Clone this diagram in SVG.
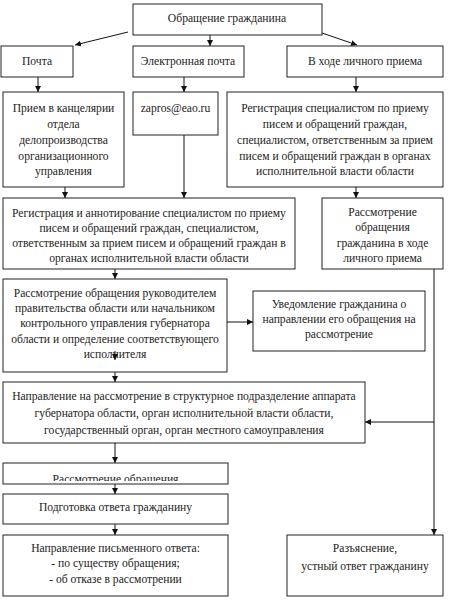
<svg xmlns="http://www.w3.org/2000/svg" width="450" height="600" viewBox="0 0 450 600">
<style>
.box{fill:#fff;stroke:#222;stroke-width:1}
.t{font-family:'Liberation Serif','Times New Roman',Times,serif;font-size:11.6px;fill:#222;text-anchor:middle}
.c{stroke:#111;stroke-width:1;fill:none;marker-end:url(#ah)}
</style>
<defs>
<marker id="ah" markerWidth="6" markerHeight="6" refX="6" refY="3" orient="auto" markerUnits="userSpaceOnUse">
<path d="M0,0 L6,3 L0,6 Z" fill="#111"/>
</marker>
<clipPath id="clip13"><rect x="3" y="463" width="225" height="18"/></clipPath>
</defs>
<rect width="450" height="600" fill="#fff"/>
<g id="connectors">
<line class="c" x1="128" y1="32" x2="75" y2="45"/>
<line class="c" x1="210" y1="35" x2="210" y2="46"/>
<line class="c" x1="322" y1="33" x2="357" y2="45"/>
<line class="c" x1="38" y1="77" x2="38" y2="92"/>
<line class="c" x1="184" y1="77" x2="184" y2="92"/>
<line class="c" x1="356" y1="77" x2="356" y2="92"/>
<line class="c" x1="65" y1="187" x2="65" y2="198"/>
<line class="c" x1="184" y1="135" x2="184" y2="198"/>
<line class="c" x1="356" y1="187" x2="356" y2="198"/>
<line class="c" x1="115" y1="269" x2="115" y2="279"/>
<line class="c" x1="227" y1="322" x2="253" y2="322"/>
<line class="c" x1="115" y1="372" x2="115" y2="382"/>
<line class="c" x1="434" y1="269" x2="434" y2="535"/>
<line class="c" x1="434" y1="422" x2="365" y2="422"/>
<line class="c" x1="115" y1="443" x2="115" y2="463"/>
<line class="c" x1="115" y1="484" x2="115" y2="494"/>
<line class="c" x1="115" y1="524" x2="115" y2="535"/>
</g>
<g id="n1"><rect class="box" x="133" y="4" width="189" height="31"/><text class="t" x="227" y="22">Обращение гражданина</text></g>
<g id="n2"><rect class="box" x="1" y="46" width="72" height="31"/><text class="t" x="37" y="65">Почта</text></g>
<g id="n3"><rect class="box" x="133" y="46" width="111" height="31"/><text class="t" x="188" y="65">Электронная почта</text></g>
<g id="n4"><rect class="box" x="287" y="46" width="156" height="31"/><text class="t" x="365" y="65">В ходе личного приема</text></g>
<g id="n5"><rect class="box" x="3" y="92" width="121" height="95"/>
<text class="t" x="63.5" y="112">Прием в канцелярии</text>
<text class="t" x="63.5" y="128">отдела</text>
<text class="t" x="63.5" y="144">делопроизводства</text>
<text class="t" x="63.5" y="160">организационного</text>
<text class="t" x="63.5" y="175">управления</text></g>
<g id="n6"><rect class="box" x="133" y="92" width="85" height="43"/><text class="t" x="175.5" y="112">zapros@eao.ru</text></g>
<g id="n7"><rect class="box" x="227" y="92" width="216" height="95"/>
<text class="t" x="335" y="112">Регистрация специалистом по приему</text>
<text class="t" x="335" y="128">писем и обращений граждан,</text>
<text class="t" x="335" y="144">специалистом, ответственным за прием</text>
<text class="t" x="335" y="160">писем и обращений граждан в органах</text>
<text class="t" x="335" y="175">исполнительной власти области</text></g>
<g id="n8"><rect class="box" x="3" y="198" width="292" height="71"/>
<text class="t" x="149" y="217">Регистрация и аннотирование специалистом по приему</text>
<text class="t" x="149" y="232">писем и обращений граждан, специалистом,</text>
<text class="t" x="149" y="247">ответственным за прием писем и обращений граждан в</text>
<text class="t" x="149" y="262">органах исполнительной власти области</text></g>
<g id="n9"><rect class="box" x="322" y="198" width="121" height="71"/>
<text class="t" x="382.5" y="216">Рассмотрение</text>
<text class="t" x="382.5" y="231">обращения</text>
<text class="t" x="382.5" y="247">гражданина в ходе</text>
<text class="t" x="382.5" y="262">личного приема</text></g>
<g id="n10"><rect class="box" x="3" y="279" width="224" height="93"/>
<text class="t" x="115" y="297">Рассмотрение обращения руководителем</text>
<text class="t" x="115" y="312">правительства области или начальником</text>
<text class="t" x="115" y="327">контрольного управления губернатора</text>
<text class="t" x="115" y="343">области и определение соответствующего</text>
<text class="t" x="115" y="358">исполнителя</text>
<line class="c" x1="115" y1="351" x2="115" y2="360"/></g>
<g id="n11"><rect class="box" x="253" y="291" width="172" height="60"/>
<text class="t" x="339" y="308">Уведомление гражданина о</text>
<text class="t" x="339" y="323">направлении его обращения на</text>
<text class="t" x="339" y="338">рассмотрение</text></g>
<g id="n12"><rect class="box" x="3" y="382" width="362" height="61"/>
<text class="t" x="184" y="400">Направление на рассмотрение в структурное подразделение аппарата</text>
<text class="t" x="184" y="417">губернатора области, орган исполнительной власти области,</text>
<text class="t" x="184" y="434">государственный орган, орган местного самоуправления</text></g>
<g id="n13"><rect class="box" x="3" y="463" width="225" height="21"/>
<text class="t" x="115.5" y="483" clip-path="url(#clip13)">Рассмотрение обращения</text></g>
<g id="n14"><rect class="box" x="3" y="494" width="225" height="30"/><text class="t" x="115.5" y="511">Подготовка ответа гражданину</text></g>
<g id="n15"><rect class="box" x="3" y="535" width="225" height="61"/>
<text class="t" x="115.5" y="552">Направление письменного ответа:</text>
<text class="t" x="115.5" y="567">- по существу обращения;</text>
<text class="t" x="115.5" y="583">- об отказе в рассмотрении</text></g>
<g id="n16"><rect class="box" x="287" y="535" width="156" height="61"/>
<text class="t" x="365" y="552">Разъяснение,</text>
<text class="t" x="365" y="570">устный ответ гражданину</text></g>
</svg>
